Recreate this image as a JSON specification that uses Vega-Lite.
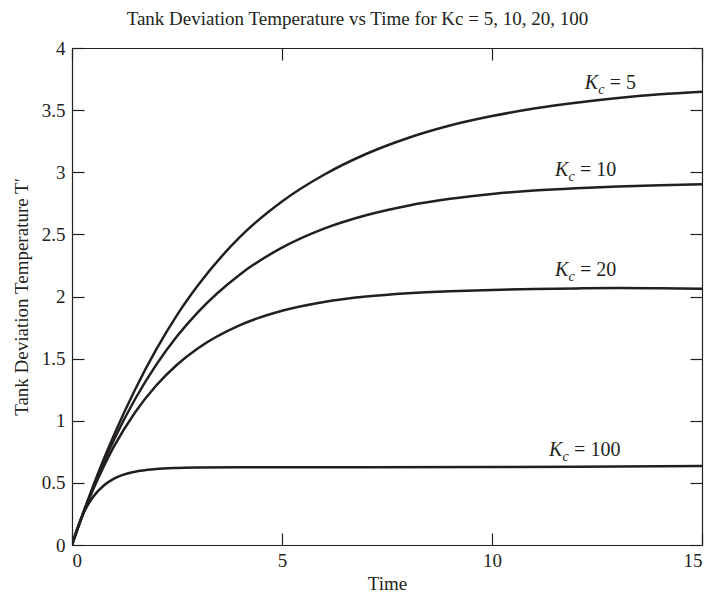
{
  "$schema": "https://vega.github.io/schema/vega-lite/v6.json",
  "width": 630,
  "height": 497,
  "autosize": {"type": "none"},
  "padding": {"left": 72, "top": 48, "right": 9, "bottom": 58},
  "background": "white",
  "config": {
    "view": {"stroke": null},
    "font": "Liberation Serif",
    "axis": {"grid": false, "domainColor": "#231f20", "tickColor": "#231f20", "labelColor": "#231f20", "titleColor": "#231f20", "labelFont": "Liberation Serif", "titleFont": "Liberation Serif", "labelFontSize": 19, "titleFontSize": 19, "titleFontWeight": "normal", "domainWidth": 1.2, "tickWidth": 1.2}
  },
  "title": {"text": "Tank Deviation Temperature vs Time for Kc = 5, 10, 20, 100", "font": "Liberation Serif", "fontSize": 19, "fontWeight": "normal", "color": "#231f20", "anchor": "middle", "frame": "bounds", "offset": 10},
  "datasets": {
    "curves": [
      {"t": 0, "T": 0, "k": "5"}, {"t": 0.25, "T": 0.244, "k": "5"}, {"t": 0.5, "T": 0.472, "k": "5"}, {"t": 0.75, "T": 0.686, "k": "5"}, {"t": 1, "T": 0.886, "k": "5"}, {"t": 1.5, "T": 1.25, "k": "5"}, {"t": 2, "T": 1.57, "k": "5"}, {"t": 2.5, "T": 1.85, "k": "5"}, {"t": 3, "T": 2.09, "k": "5"}, {"t": 4, "T": 2.48, "k": "5"}, {"t": 5, "T": 2.765, "k": "5"}, {"t": 6, "T": 2.98, "k": "5"}, {"t": 7, "T": 3.147, "k": "5"}, {"t": 8, "T": 3.276, "k": "5"}, {"t": 9, "T": 3.376, "k": "5"}, {"t": 10, "T": 3.452, "k": "5"}, {"t": 11, "T": 3.513, "k": "5"}, {"t": 12, "T": 3.56, "k": "5"}, {"t": 13, "T": 3.598, "k": "5"}, {"t": 14, "T": 3.627, "k": "5"}, {"t": 15, "T": 3.648, "k": "5"},
      {"t": 0, "T": 0, "k": "10"}, {"t": 0.25, "T": 0.24, "k": "10"}, {"t": 0.5, "T": 0.46, "k": "10"}, {"t": 0.75, "T": 0.661, "k": "10"}, {"t": 1, "T": 0.847, "k": "10"}, {"t": 1.5, "T": 1.173, "k": "10"}, {"t": 2, "T": 1.448, "k": "10"}, {"t": 2.5, "T": 1.68, "k": "10"}, {"t": 3, "T": 1.875, "k": "10"}, {"t": 4, "T": 2.178, "k": "10"}, {"t": 5, "T": 2.393, "k": "10"}, {"t": 6, "T": 2.546, "k": "10"}, {"t": 7, "T": 2.654, "k": "10"}, {"t": 8, "T": 2.731, "k": "10"}, {"t": 9, "T": 2.786, "k": "10"}, {"t": 10, "T": 2.825, "k": "10"}, {"t": 11, "T": 2.853, "k": "10"}, {"t": 12, "T": 2.872, "k": "10"}, {"t": 13, "T": 2.886, "k": "10"}, {"t": 14, "T": 2.896, "k": "10"}, {"t": 15, "T": 2.903, "k": "10"},
      {"t": 0, "T": 0, "k": "20"}, {"t": 0.25, "T": 0.236, "k": "20"}, {"t": 0.5, "T": 0.444, "k": "20"}, {"t": 0.75, "T": 0.629, "k": "20"}, {"t": 1, "T": 0.793, "k": "20"}, {"t": 1.5, "T": 1.067, "k": "20"}, {"t": 2, "T": 1.282, "k": "20"}, {"t": 2.5, "T": 1.451, "k": "20"}, {"t": 3, "T": 1.584, "k": "20"}, {"t": 4, "T": 1.77, "k": "20"}, {"t": 5, "T": 1.885, "k": "20"}, {"t": 6, "T": 1.956, "k": "20"}, {"t": 7, "T": 2.0, "k": "20"}, {"t": 8, "T": 2.027, "k": "20"}, {"t": 9, "T": 2.043, "k": "20"}, {"t": 10, "T": 2.053, "k": "20"}, {"t": 11, "T": 2.06, "k": "20"}, {"t": 12, "T": 2.065, "k": "20"}, {"t": 13, "T": 2.068, "k": "20"}, {"t": 14, "T": 2.066, "k": "20"}, {"t": 15, "T": 2.063, "k": "20"},
      {"t": 0, "T": 0, "k": "100"}, {"t": 0.1, "T": 0.109, "k": "100"}, {"t": 0.25, "T": 0.239, "k": "100"}, {"t": 0.5, "T": 0.386, "k": "100"}, {"t": 0.75, "T": 0.477, "k": "100"}, {"t": 1, "T": 0.534, "k": "100"}, {"t": 1.5, "T": 0.59, "k": "100"}, {"t": 2, "T": 0.612, "k": "100"}, {"t": 2.5, "T": 0.62, "k": "100"}, {"t": 3, "T": 0.623, "k": "100"}, {"t": 4, "T": 0.625, "k": "100"}, {"t": 5, "T": 0.625, "k": "100"}, {"t": 7, "T": 0.626, "k": "100"}, {"t": 10, "T": 0.628, "k": "100"}, {"t": 12, "T": 0.63, "k": "100"}, {"t": 15, "T": 0.635, "k": "100"}
    ],
    "labels": [
      {"t": 12.21, "T": 3.67, "eq": "= 5"},
      {"t": 11.5, "T": 2.97, "eq": "= 10"},
      {"t": 11.5, "T": 2.166, "eq": "= 20"},
      {"t": 11.36, "T": 0.717, "eq": "= 100"}
    ]
  },
  "layer": [
    {
      "data": {"name": "curves"},
      "mark": {"type": "line", "color": "#231f20", "strokeWidth": 2.5, "interpolate": "monotone", "clip": true},
      "encoding": {
        "x": {"field": "t", "type": "quantitative", "scale": {"domain": [0, 15], "nice": false, "zero": false}, "axis": {"orient": "bottom", "values": [0, 5, 10, 15], "title": "Time", "tickSize": -12, "labelPadding": 18, "titlePadding": 4, "labelExpr": "'' + datum.value"}},
        "y": {"field": "T", "type": "quantitative", "scale": {"domain": [0, 4], "nice": false}, "axis": {"orient": "left", "values": [0, 0.5, 1, 1.5, 2, 2.5, 3, 3.5, 4], "title": "Tank Deviation Temperature T′", "tickSize": -12, "labelPadding": 19, "titlePadding": 10, "labelExpr": "'' + datum.value"}},
        "detail": {"field": "k", "type": "nominal"}
      }
    },
    {
      "data": {"name": "labels"},
      "mark": {"type": "text", "text": "K", "align": "left", "baseline": "alphabetic", "fontStyle": "italic", "fontSize": 20, "color": "#231f20", "font": "Liberation Serif"},
      "encoding": {
        "x": {"field": "t", "type": "quantitative", "axis": {"orient": "top", "values": [0, 5, 10, 15], "labels": false, "title": null, "tickSize": -12}},
        "y": {"field": "T", "type": "quantitative", "axis": {"orient": "right", "values": [0, 0.5, 1, 1.5, 2, 2.5, 3, 3.5, 4], "labels": false, "title": null, "tickSize": -12}}
      }
    },
    {
      "data": {"name": "labels"},
      "mark": {"type": "text", "text": "c", "align": "left", "baseline": "alphabetic", "fontStyle": "italic", "fontSize": 14, "dx": 13.5, "dy": 5, "color": "#231f20", "font": "Liberation Serif"},
      "encoding": {
        "x": {"field": "t", "type": "quantitative", "axis": null},
        "y": {"field": "T", "type": "quantitative", "axis": null}
      }
    },
    {
      "data": {"name": "labels"},
      "mark": {"type": "text", "align": "left", "baseline": "alphabetic", "fontSize": 20, "dx": 25, "color": "#231f20", "font": "Liberation Serif"},
      "encoding": {
        "x": {"field": "t", "type": "quantitative", "axis": null},
        "y": {"field": "T", "type": "quantitative", "axis": null},
        "text": {"field": "eq"}
      }
    }
  ],
  "resolve": {"axis": {"x": "independent", "y": "independent"}}
}
